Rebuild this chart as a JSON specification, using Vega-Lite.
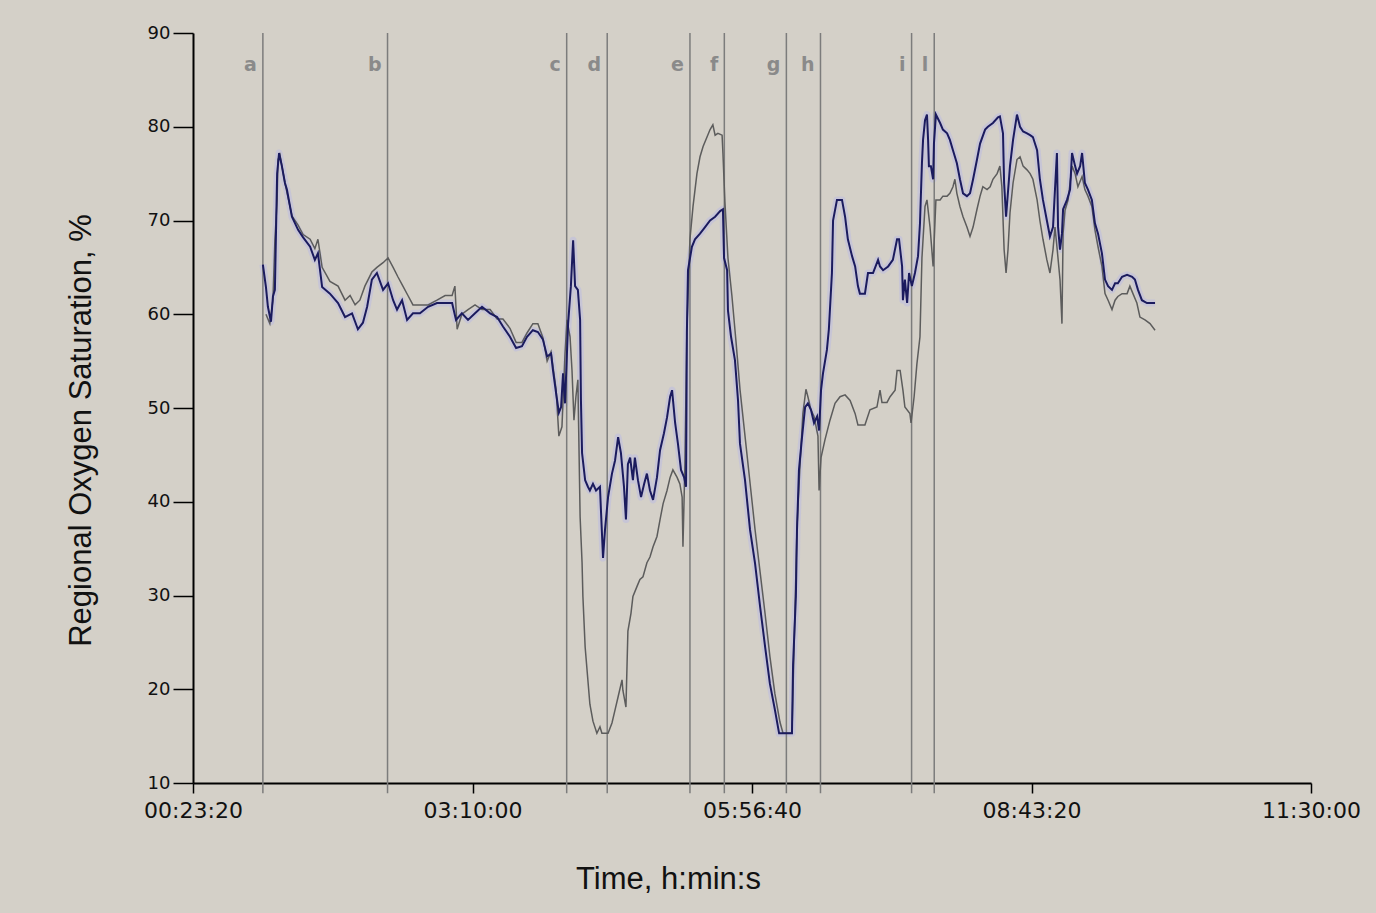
{
  "$schema": "https://vega.github.io/schema/vega-lite/v6.json",
  "width": 1118,
  "height": 750,
  "autosize": {"type": "none"},
  "padding": {"left": 193, "top": 33, "right": 65, "bottom": 130},
  "background": "#d4d0c8",
  "config": {"view": {"stroke": null}, "font": "Liberation Sans"},
  "datasets": {
    "events": [
      {"t": 3900, "label": "a"}, {"t": 8360, "label": "b"}, {"t": 14770, "label": "c"}, {"t": 16220, "label": "d"},
      {"t": 19180, "label": "e"}, {"t": 20410, "label": "f"}, {"t": 22630, "label": "g"}, {"t": 23850, "label": "h"},
      {"t": 27110, "label": "i"}, {"t": 27920, "label": "l"}
    ],
    "blue": [
      {"t":3900,"v":65.3},{"t":4010,"v":62.9},{"t":4080,"v":60.8},{"t":4190,"v":59.2},{"t":4260,"v":61.9},{"t":4330,"v":62.6},{"t":4410,"v":75},{"t":4480,"v":77.2},{"t":4580,"v":75.8},{"t":4690,"v":74},{"t":4760,"v":73.3},{"t":4940,"v":70.4},{"t":5160,"v":69},{"t":5340,"v":68.2},{"t":5590,"v":67.2},{"t":5760,"v":65.8},{"t":5870,"v":66.5},{"t":6020,"v":62.9},{"t":6300,"v":62.2},{"t":6590,"v":61.2},{"t":6840,"v":59.7},{"t":7090,"v":60.1},{"t":7300,"v":58.4},{"t":7480,"v":59.1},{"t":7630,"v":60.8},{"t":7800,"v":63.7},{"t":7980,"v":64.4},{"t":8200,"v":62.6},{"t":8380,"v":63.3},{"t":8560,"v":61.5},{"t":8700,"v":60.5},{"t":8880,"v":61.5},{"t":9060,"v":59.4},{"t":9270,"v":60.1},{"t":9520,"v":60.1},{"t":9810,"v":60.8},{"t":10130,"v":61.2},{"t":10420,"v":61.2},{"t":10670,"v":61.2},{"t":10810,"v":59.4},{"t":11020,"v":60.1},{"t":11240,"v":59.4},{"t":11490,"v":60.1},{"t":11740,"v":60.8},{"t":12030,"v":60.1},{"t":12280,"v":59.7},{"t":12490,"v":58.7},{"t":12740,"v":57.6},{"t":12960,"v":56.4},{"t":13170,"v":56.6},{"t":13350,"v":57.6},{"t":13560,"v":58.3},{"t":13740,"v":58.1},{"t":13920,"v":57.3},{"t":14070,"v":55.5},{"t":14210,"v":55.8},{"t":14280,"v":54},{"t":14390,"v":51.6},{"t":14490,"v":49.5},{"t":14570,"v":50.1},{"t":14640,"v":53.7},{"t":14710,"v":50.5},{"t":14820,"v":59},{"t":14920,"v":63},{"t":15000,"v":67.9},{"t":15070,"v":63},{"t":15170,"v":62.6},{"t":15250,"v":59.4},{"t":15280,"v":50.8},{"t":15320,"v":45.2},{"t":15430,"v":42.3},{"t":15530,"v":41.6},{"t":15600,"v":41.2},{"t":15710,"v":41.9},{"t":15820,"v":41.2},{"t":15960,"v":41.6},{"t":16000,"v":38.8},{"t":16070,"v":34},{"t":16140,"v":37},{"t":16250,"v":40.5},{"t":16390,"v":43},{"t":16500,"v":44.4},{"t":16610,"v":46.9},{"t":16710,"v":45.2},{"t":16820,"v":41.6},{"t":16890,"v":38.1},{"t":16960,"v":44},{"t":17040,"v":44.7},{"t":17140,"v":42.3},{"t":17210,"v":44.7},{"t":17320,"v":42.3},{"t":17430,"v":40.5},{"t":17540,"v":41.9},{"t":17640,"v":43},{"t":17750,"v":41.2},{"t":17860,"v":40.2},{"t":18000,"v":42.6},{"t":18110,"v":45.5},{"t":18250,"v":47.3},{"t":18360,"v":49},{"t":18470,"v":51.2},{"t":18540,"v":51.9},{"t":18650,"v":48.4},{"t":18750,"v":46.2},{"t":18860,"v":43.4},{"t":18970,"v":42.6},{"t":19040,"v":41.6},{"t":19070,"v":58},{"t":19110,"v":64.7},{"t":19250,"v":67.2},{"t":19360,"v":68},{"t":19540,"v":68.6},{"t":19720,"v":69.3},{"t":19900,"v":70},{"t":20080,"v":70.4},{"t":20260,"v":71},{"t":20360,"v":71.2},{"t":20400,"v":66},{"t":20510,"v":64.7},{"t":20540,"v":60.4},{"t":20650,"v":57.6},{"t":20790,"v":55.1},{"t":20900,"v":50.8},{"t":20970,"v":46.2},{"t":21150,"v":42.3},{"t":21330,"v":37},{"t":21510,"v":33.4},{"t":21690,"v":28.8},{"t":21870,"v":24.5},{"t":22040,"v":20.6},{"t":22220,"v":17.8},{"t":22370,"v":15.3},{"t":22830,"v":15.3},{"t":22870,"v":22.7},{"t":22970,"v":29.9},{"t":23010,"v":37},{"t":23080,"v":43.4},{"t":23190,"v":46.9},{"t":23300,"v":50.1},{"t":23400,"v":50.5},{"t":23510,"v":49.8},{"t":23620,"v":48.4},{"t":23730,"v":49.1},{"t":23800,"v":47.6},{"t":23870,"v":51.9},{"t":23940,"v":53.7},{"t":24080,"v":56.2},{"t":24150,"v":58.4},{"t":24260,"v":64.4},{"t":24300,"v":70},{"t":24440,"v":72.2},{"t":24620,"v":72.2},{"t":24730,"v":70.4},{"t":24830,"v":68},{"t":24980,"v":66.2},{"t":25090,"v":65.1},{"t":25190,"v":63},{"t":25260,"v":62.2},{"t":25440,"v":62.2},{"t":25550,"v":64.4},{"t":25730,"v":64.4},{"t":25910,"v":65.8},{"t":25980,"v":65.1},{"t":26090,"v":64.7},{"t":26270,"v":65.1},{"t":26440,"v":65.8},{"t":26590,"v":68},{"t":26660,"v":68},{"t":26770,"v":65.1},{"t":26800,"v":61.5},{"t":26870,"v":63.7},{"t":26950,"v":61.2},{"t":27020,"v":64.4},{"t":27120,"v":63},{"t":27230,"v":64.4},{"t":27340,"v":66.2},{"t":27410,"v":69.7},{"t":27480,"v":76.1},{"t":27520,"v":78.6},{"t":27590,"v":80.7},{"t":27660,"v":81.3},{"t":27700,"v":78.6},{"t":27730,"v":75.8},{"t":27800,"v":75.8},{"t":27880,"v":74.4},{"t":27910,"v":78.2},{"t":27980,"v":81.3},{"t":28130,"v":80.4},{"t":28230,"v":79.7},{"t":28380,"v":79.3},{"t":28480,"v":78.6},{"t":28590,"v":77.5},{"t":28730,"v":76.1},{"t":28840,"v":74.4},{"t":28950,"v":72.9},{"t":29090,"v":72.6},{"t":29200,"v":72.9},{"t":29310,"v":74.4},{"t":29450,"v":76.5},{"t":29560,"v":78.2},{"t":29740,"v":79.7},{"t":29840,"v":80},{"t":30020,"v":80.4},{"t":30200,"v":81},{"t":30270,"v":81.1},{"t":30380,"v":79.3},{"t":30420,"v":74},{"t":30490,"v":70.4},{"t":30630,"v":75.8},{"t":30740,"v":78.6},{"t":30880,"v":81.3},{"t":30990,"v":80},{"t":31100,"v":79.5},{"t":31240,"v":79.3},{"t":31350,"v":79.1},{"t":31450,"v":78.9},{"t":31600,"v":77.5},{"t":31700,"v":74.4},{"t":31810,"v":72.2},{"t":31950,"v":70},{"t":32060,"v":68.3},{"t":32170,"v":69.3},{"t":32240,"v":73.3},{"t":32310,"v":77.2},{"t":32350,"v":69.3},{"t":32420,"v":66.9},{"t":32490,"v":68.6},{"t":32530,"v":71.2},{"t":32670,"v":72.2},{"t":32780,"v":73.3},{"t":32850,"v":77.2},{"t":32960,"v":75.8},{"t":33030,"v":75},{"t":33140,"v":75.8},{"t":33210,"v":77.2},{"t":33310,"v":74},{"t":33420,"v":73.3},{"t":33560,"v":72.2},{"t":33670,"v":69.7},{"t":33780,"v":68.6},{"t":33920,"v":66.5},{"t":34030,"v":63.7},{"t":34140,"v":63},{"t":34280,"v":62.6},{"t":34390,"v":63.3},{"t":34490,"v":63.3},{"t":34640,"v":64},{"t":34820,"v":64.2},{"t":35000,"v":64},{"t":35100,"v":63.7},{"t":35210,"v":62.6},{"t":35350,"v":61.5},{"t":35530,"v":61.2},{"t":35820,"v":61.2}
    ],
    "gray": [
      {"t":4010,"v":60},{"t":4150,"v":59},{"t":4260,"v":61.5},{"t":4330,"v":67.9},{"t":4410,"v":72.2},{"t":4440,"v":76.5},{"t":4510,"v":77},{"t":4690,"v":74},{"t":4940,"v":70.5},{"t":5160,"v":69.5},{"t":5340,"v":68.5},{"t":5590,"v":68},{"t":5760,"v":67},{"t":5870,"v":68},{"t":6020,"v":65},{"t":6300,"v":63.5},{"t":6590,"v":63},{"t":6840,"v":61.5},{"t":7020,"v":62},{"t":7200,"v":61},{"t":7370,"v":61.5},{"t":7550,"v":63},{"t":7800,"v":64.5},{"t":7980,"v":65},{"t":8200,"v":65.5},{"t":8380,"v":66},{"t":8560,"v":65},{"t":8730,"v":64},{"t":8910,"v":63},{"t":9090,"v":62},{"t":9270,"v":61},{"t":9520,"v":61},{"t":9810,"v":61},{"t":10130,"v":61.5},{"t":10420,"v":62},{"t":10670,"v":62},{"t":10770,"v":63},{"t":10850,"v":58.4},{"t":11020,"v":60},{"t":11240,"v":60.5},{"t":11490,"v":61},{"t":11740,"v":60.5},{"t":12030,"v":60.5},{"t":12280,"v":59.5},{"t":12490,"v":59.5},{"t":12740,"v":58.5},{"t":12960,"v":57},{"t":13170,"v":57},{"t":13350,"v":58},{"t":13560,"v":59},{"t":13740,"v":59},{"t":13920,"v":57.5},{"t":14070,"v":55},{"t":14210,"v":56},{"t":14390,"v":52},{"t":14490,"v":47},{"t":14600,"v":48},{"t":14710,"v":55.8},{"t":14780,"v":59.4},{"t":14890,"v":57.6},{"t":14960,"v":54},{"t":15030,"v":48.7},{"t":15100,"v":51.2},{"t":15170,"v":53},{"t":15250,"v":38.4},{"t":15320,"v":33.5},{"t":15350,"v":29.9},{"t":15430,"v":24.5},{"t":15530,"v":20.9},{"t":15600,"v":18.4},{"t":15710,"v":16.6},{"t":15850,"v":15.3},{"t":15960,"v":16},{"t":16030,"v":15.3},{"t":16250,"v":15.3},{"t":16390,"v":16.4},{"t":16500,"v":17.8},{"t":16610,"v":19.2},{"t":16750,"v":21},{"t":16780,"v":19.9},{"t":16890,"v":18.1},{"t":16930,"v":22.7},{"t":16960,"v":26.2},{"t":17070,"v":28.1},{"t":17140,"v":29.9},{"t":17290,"v":31},{"t":17390,"v":31.7},{"t":17500,"v":32},{"t":17640,"v":33.5},{"t":17750,"v":34.1},{"t":17860,"v":35.2},{"t":18000,"v":36.3},{"t":18110,"v":38.1},{"t":18220,"v":39.8},{"t":18360,"v":41.2},{"t":18470,"v":42.6},{"t":18570,"v":43.4},{"t":18720,"v":42.6},{"t":18820,"v":41.9},{"t":18900,"v":40.5},{"t":18930,"v":35.2},{"t":19000,"v":44.1},{"t":19070,"v":58.4},{"t":19180,"v":68},{"t":19290,"v":71.5},{"t":19430,"v":75},{"t":19540,"v":76.8},{"t":19650,"v":77.9},{"t":19790,"v":78.9},{"t":19900,"v":79.7},{"t":20000,"v":80.2},{"t":20080,"v":79.1},{"t":20180,"v":79.3},{"t":20330,"v":79.1},{"t":20360,"v":77.2},{"t":20430,"v":72},{"t":20540,"v":66},{"t":20680,"v":62},{"t":20830,"v":57},{"t":20970,"v":52},{"t":21150,"v":47},{"t":21330,"v":42},{"t":21510,"v":37},{"t":21690,"v":32.5},{"t":21870,"v":28},{"t":22040,"v":23.5},{"t":22220,"v":19.5},{"t":22400,"v":16.5},{"t":22510,"v":15.3},{"t":22830,"v":15.3},{"t":23010,"v":37.3},{"t":23120,"v":44},{"t":23220,"v":49.4},{"t":23330,"v":52},{"t":23400,"v":51.2},{"t":23510,"v":49.8},{"t":23620,"v":49.1},{"t":23760,"v":47},{"t":23800,"v":41.2},{"t":23870,"v":44.7},{"t":24010,"v":46.6},{"t":24190,"v":48.7},{"t":24370,"v":50.5},{"t":24550,"v":51.2},{"t":24730,"v":51.4},{"t":24910,"v":50.8},{"t":25090,"v":49.4},{"t":25190,"v":48.2},{"t":25440,"v":48.2},{"t":25620,"v":49.8},{"t":25870,"v":50.1},{"t":25980,"v":51.9},{"t":26050,"v":50.6},{"t":26230,"v":50.6},{"t":26340,"v":51.2},{"t":26520,"v":51.9},{"t":26590,"v":54},{"t":26700,"v":54},{"t":26800,"v":51.9},{"t":26870,"v":50.1},{"t":27050,"v":49.4},{"t":27090,"v":48.4},{"t":27200,"v":51.2},{"t":27300,"v":54.7},{"t":27410,"v":57.6},{"t":27480,"v":66},{"t":27590,"v":71.5},{"t":27660,"v":72.2},{"t":27770,"v":69.3},{"t":27880,"v":65.1},{"t":27980,"v":72.2},{"t":28130,"v":72.2},{"t":28230,"v":72.6},{"t":28380,"v":72.6},{"t":28480,"v":72.9},{"t":28590,"v":73.6},{"t":28660,"v":74.4},{"t":28730,"v":72.9},{"t":28840,"v":71.5},{"t":28950,"v":70.4},{"t":29090,"v":69.3},{"t":29200,"v":68.3},{"t":29310,"v":69.3},{"t":29450,"v":71.2},{"t":29560,"v":72.6},{"t":29660,"v":73.6},{"t":29810,"v":73.3},{"t":29920,"v":73.6},{"t":30020,"v":74.4},{"t":30170,"v":75},{"t":30270,"v":75.8},{"t":30340,"v":73.6},{"t":30420,"v":66.9},{"t":30490,"v":64.4},{"t":30560,"v":66.9},{"t":30630,"v":70.8},{"t":30740,"v":74},{"t":30880,"v":76.5},{"t":30990,"v":76.8},{"t":31100,"v":75.8},{"t":31240,"v":75.4},{"t":31350,"v":75},{"t":31450,"v":74.4},{"t":31600,"v":72.2},{"t":31700,"v":70},{"t":31810,"v":68},{"t":31950,"v":65.8},{"t":32060,"v":64.4},{"t":32170,"v":66.9},{"t":32240,"v":69.3},{"t":32310,"v":67.2},{"t":32420,"v":63.7},{"t":32490,"v":59},{"t":32530,"v":68.6},{"t":32600,"v":71.1},{"t":32710,"v":72.2},{"t":32850,"v":75.8},{"t":32960,"v":75},{"t":33060,"v":73.6},{"t":33210,"v":74.7},{"t":33310,"v":73.3},{"t":33420,"v":72.6},{"t":33560,"v":71.5},{"t":33670,"v":69},{"t":33780,"v":67.2},{"t":33920,"v":65.1},{"t":34030,"v":62.2},{"t":34140,"v":61.5},{"t":34280,"v":60.5},{"t":34390,"v":61.5},{"t":34490,"v":61.9},{"t":34640,"v":62.2},{"t":34820,"v":62.2},{"t":34920,"v":63},{"t":35030,"v":62.2},{"t":35170,"v":61.2},{"t":35280,"v":59.7},{"t":35460,"v":59.4},{"t":35640,"v":59},{"t":35820,"v":58.3}
    ]
  },
  "layer": [
    {
      "data": {"name": "blue"},
      "mark": {"type": "line", "color": "#b9b9e6", "strokeWidth": 7, "opacity": 0.45, "strokeJoin": "round"},
      "encoding": {
        "x": {
          "field": "t", "type": "quantitative",
          "scale": {"domain": [1400, 41400], "nice": false, "zero": false},
          "axis": {
            "values": [1400, 11400, 21400, 31400, 41400],
            "labelExpr": "utcFormat(datum.value * 1000, '%H:%M:%S')",
            "title": "Time, h:min:s",
            "grid": false,
            "domainColor": "#000000", "domainWidth": 2,
            "tickColor": "#000000", "tickWidth": 1.5, "tickSize": 10,
            "labelFont": "DejaVu Sans", "labelFontSize": 22, "labelColor": "#111111",
            "labelPadding": 24, "labelBaseline": "alphabetic", "labelFlush": false, "labelOverlap": false,
            "titleFont": "Liberation Sans", "titleFontSize": 31, "titleFontWeight": "normal", "titleColor": "#111111",
            "titleX": 475, "titleY": 105, "titleAlign": "center", "titleBaseline": "alphabetic", "titleAnchor": null
          }
        },
        "y": {
          "field": "v", "type": "quantitative",
          "scale": {"domain": [10, 90], "nice": false, "zero": false},
          "axis": {
            "values": [10, 20, 30, 40, 50, 60, 70, 80, 90],
            "title": "Regional Oxygen Saturation, %",
            "grid": false,
            "domainColor": "#000000", "domainWidth": 2,
            "tickColor": "#000000", "tickWidth": 1.5, "tickSize": 20,
            "labelFont": "DejaVu Sans", "labelFontSize": 18, "labelColor": "#111111", "labelPadding": 3,
            "labelFlush": false, "labelOverlap": false,
            "titleFont": "Liberation Sans", "titleFontSize": 31, "titleFontWeight": "normal", "titleColor": "#111111",
            "titleAngle": 270, "titleX": -103, "titleY": 397, "titleAlign": "center", "titleBaseline": "alphabetic", "titleAnchor": null
          }
        }
      }
    },
    {
      "data": {"name": "events"},
      "mark": {"type": "rule", "color": "#7c7c7c", "strokeWidth": 1.5, "clip": false},
      "encoding": {
        "x": {"field": "t", "type": "quantitative"},
        "y": {"datum": 90},
        "y2": {"datum": 8.9}
      }
    },
    {
      "data": {"name": "events"},
      "mark": {"type": "text", "align": "right", "baseline": "alphabetic", "dx": -6, "font": "DejaVu Sans", "fontSize": 19, "fontWeight": "bold", "color": "#8a8a8a"},
      "encoding": {
        "x": {"field": "t", "type": "quantitative"},
        "y": {"datum": 85.9},
        "text": {"field": "label"}
      }
    },
    {
      "data": {"name": "gray"},
      "mark": {"type": "line", "color": "#5c5c5c", "strokeWidth": 1.5},
      "encoding": {
        "x": {"field": "t", "type": "quantitative"},
        "y": {"field": "v", "type": "quantitative"}
      }
    },
    {
      "data": {"name": "blue"},
      "mark": {"type": "line", "color": "#1b1b5e", "strokeWidth": 2},
      "encoding": {
        "x": {"field": "t", "type": "quantitative"},
        "y": {"field": "v", "type": "quantitative"}
      }
    }
  ]
}
